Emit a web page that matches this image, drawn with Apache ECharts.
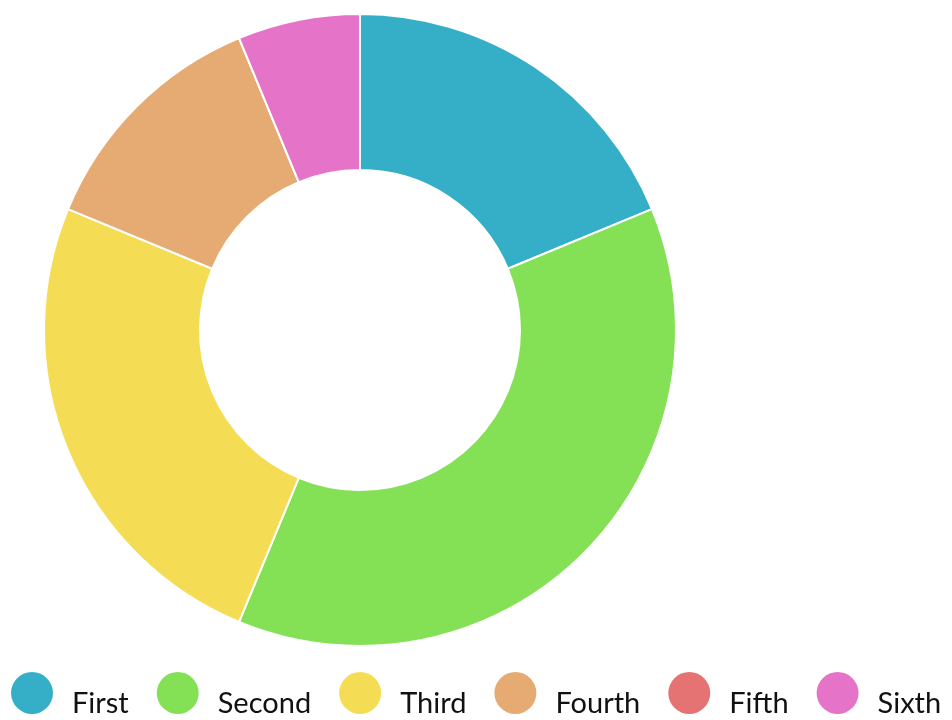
<!DOCTYPE html>
<html><head><meta charset="utf-8">
<script src="https://cdn.jsdelivr.net/npm/echarts@6/dist/echarts.min.js"></script>
<style>html,body{margin:0;padding:0;background:#fff}#c{width:952px;height:720px}</style>
</head><body><div id="c"></div>
<script>
const categories = ['First', 'Second', 'Third', 'Fourth', 'Fifth', 'Sixth'];
const values = [3, 6, 4, 2, 0, 1];
const colors = ['#35AFC8', '#84E055', '#F5DC55', '#E5AB72', '#E57373', '#E574C8'];

const chart = echarts.init(document.getElementById('c'));
chart.setOption({
  animation: false,
  color: colors,
  legend: {
    data: categories,
    left: 11,
    top: 672,
    width: 941,
    padding: 0,
    icon: 'circle',
    itemWidth: 42,
    itemHeight: 42,
    itemGap: 28,
    itemStyle: { borderWidth: 0 },
    formatter: '{a|{name}}',
    textStyle: {
      fontFamily: 'Lato', fontSize: 29, color: '#111',
      rich: { a: { fontFamily: 'Lato', fontSize: 29, color: '#111', padding: [22, 0, 0, 14] } }
    }
  },
  series: [{
    type: 'pie',
    center: [360, 330],
    radius: [160, 316],
    startAngle: 90,
    clockwise: true,
    label: { show: false },
    labelLine: { show: false },
    itemStyle: { borderColor: '#fff', borderWidth: 2 },
    emphasis: { disabled: true },
    data: categories.map((n, i) => ({ name: n, value: values[i] }))
  }]
});
</script></body></html>
